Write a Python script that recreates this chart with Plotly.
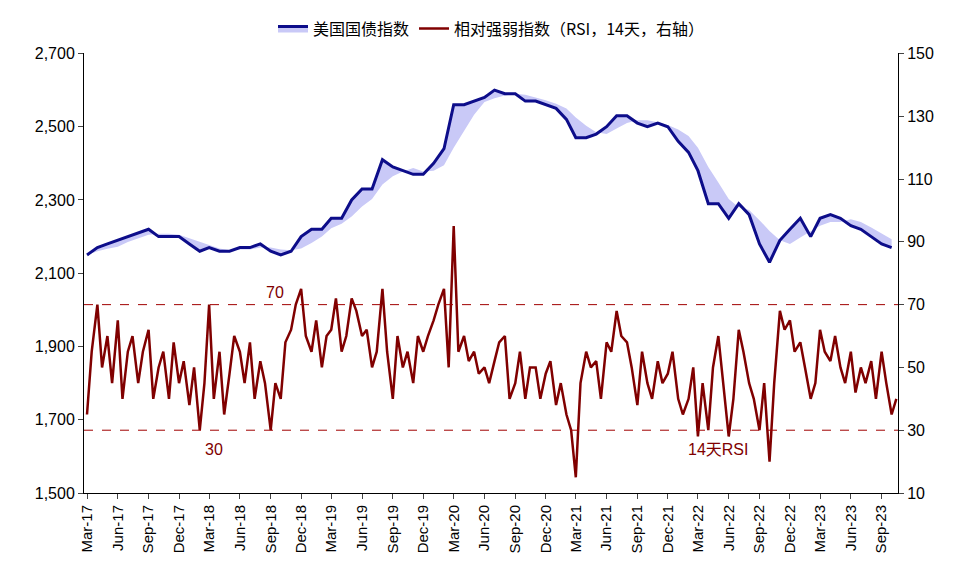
import pandas as pd
import plotly.graph_objects as go

idx_dates = pd.date_range("2017-03-01", periods=80, freq="MS")
idx_vals = [2150,2170,2180,2190,2200,2210,2220,2200,2200,2200,
            2180,2160,2170,2160,2160,2170,2170,2180,2160,2150,2160,2200,
            2220,2220,2250,2250,2300,2330,2330,2410,2390,2380,2370,2370,
            2400,2440,2560,2560,2570,2580,2600,2590,2590,2570,2570,2560,
            2550,2520,2470,2470,2480,2500,2530,2530,2510,2500,2510,2500,
            2460,2430,2380,2290,2290,2250,2290,2260,2180,2130,2190,2220,
            2250,2200,2250,2260,2250,2230,2220,2200,2180,2170]
idx_vals = idx_vals[:80]

rsi_dates = pd.date_range("2017-03-01", periods=160, freq="SMS")
rsi_vals = [35,55,70,50,60,45,65,40,55,60,45,55,62,40,50,55,40,58,45,52,
            38,50,30,45,70,40,55,35,48,60,55,45,58,40,52,45,30,45,40,58,62,70,75,60,
            55,65,50,60,62,72,55,60,72,68,60,62,50,55,75,55,40,60,50,55,45,60,55,60,
            65,70,75,50,95,55,60,52,55,48,50,45,52,58,60,40,45,55,40,50,50,40,48,52,
            38,45,35,30,15,45,55,50,52,40,58,55,68,60,58,50,38,55,45,40,52,45,48,55,
            40,35,40,50,28,45,30,50,60,45,28,40,62,55,45,40,30,45,20,45,68,62,65,55,
            58,50,40,45,62,55,52,60,50,45,55,42,50,45,52,40,55,45,35,40]
rsi_vals = rsi_vals[:160]

s = pd.Series(idx_vals, index=idx_dates)
ma = s.rolling(4, min_periods=1).mean()

qticks = pd.date_range("2017-03-01", "2023-09-01", freq="3MS")
qtext = [d.strftime("%b-%y") for d in qticks]

fig = go.Figure()
fig.add_trace(go.Scatter(x=idx_dates, y=ma, mode="lines", line=dict(width=0), showlegend=False, hoverinfo="skip"))
fig.add_trace(go.Scatter(x=idx_dates, y=idx_vals, mode="lines", fill="tonexty", fillcolor="#c9c9f7",
                         line=dict(color="#0d0d8a", width=3), name="美国国债指数", legendrank=1))
fig.add_trace(go.Scatter(x=rsi_dates, y=rsi_vals, mode="lines", yaxis="y2",
                         line=dict(color="#800000", width=2.5), name="相对强弱指数（RSI，14天，右轴）", legendrank=2))
for v in (70, 30):
    fig.add_shape(type="line", xref="paper", x0=0, x1=1, yref="y2", y0=v, y1=v,
                  line=dict(color="#a00000", width=1, dash="dash"))
fig.add_annotation(x="2018-09-15", y=74, yref="y2", text="70", showarrow=False, font=dict(color="#800000", size=16))
fig.add_annotation(x="2018-03-15", y=24, yref="y2", text="30", showarrow=False, font=dict(color="#800000", size=16))
fig.add_annotation(x="2022-05-01", y=24, yref="y2", text="14天RSI", showarrow=False, font=dict(color="#800000", size=16))

fig.update_layout(
    width=958, height=585, plot_bgcolor="white", paper_bgcolor="white",
    margin=dict(l=76, r=68, t=0, b=100),
    font=dict(family="Liberation Sans, Noto Sans CJK SC", size=16, color="black"),
    legend=dict(orientation="h", x=0.5, xanchor="center", yref="container", y=0.965, yanchor="middle",
                traceorder="normal", font=dict(size=16, family="Noto Sans CJK SC")),
    xaxis=dict(range=["2017-02-20", "2023-10-20"], tickvals=qticks, ticktext=qtext, tickangle=-90,
               showgrid=False, showline=True, linecolor="black", ticks="outside", tickfont=dict(size=15)),
    yaxis=dict(range=[1500, 2700], tickvals=list(range(1500, 2701, 200)), tickformat=",", showgrid=False,
               showline=True, linecolor="black", ticks="outside"),
    yaxis2=dict(range=[10, 150], tickvals=list(range(10, 151, 20)), overlaying="y", side="right",
                showgrid=False, showline=True, linecolor="black", ticks="outside"),
)
fig.write_html("out.html")
